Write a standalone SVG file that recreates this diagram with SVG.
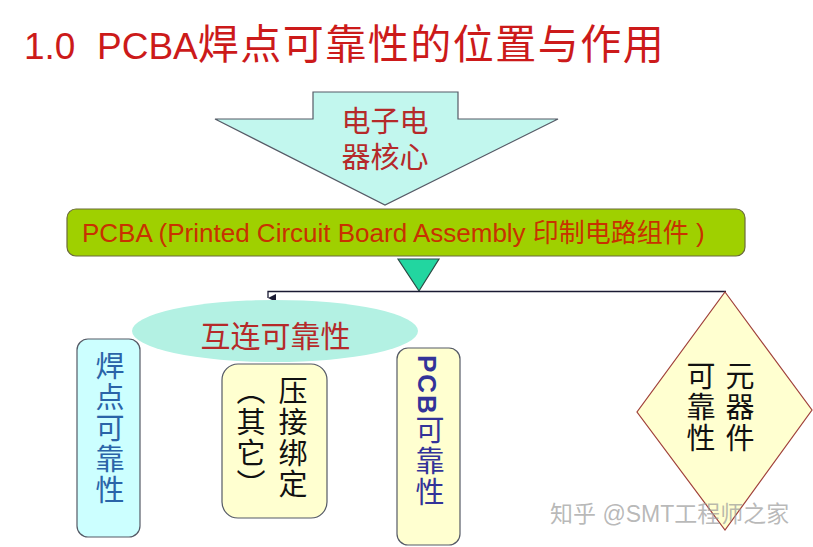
<svg xmlns="http://www.w3.org/2000/svg" width="813" height="547" viewBox="0 0 813 547">
  <defs>
    <style>
      .cjk { font-family: "Liberation Sans", "Noto Sans CJK SC", sans-serif; }
      .vert { writing-mode: vertical-rl; font-family: "Liberation Sans", "Noto Sans CJK SC", sans-serif; font-size: 29px; letter-spacing: 2px; }
      .node-stroke { stroke: #555a66; stroke-width: 1.2; }
    </style>
    <marker id="arrowDown" viewBox="0 0 10 10" refX="5" refY="10" markerWidth="8" markerHeight="8" markerUnits="userSpaceOnUse" orient="auto">
      <path d="M0,0 L10,0 L5,10 Z" fill="#1a1a33"/>
    </marker>
  </defs>
  <rect width="813" height="547" fill="#ffffff"/>

  <text id="title" class="cjk" x="24" y="59" fill="#cc1a1a" font-size="37">1.0<tspan x="97">PCBA</tspan><tspan font-size="41" letter-spacing="1.5">焊点可靠性的位置与作用</tspan></text>

  <g id="core-arrow">
    <polygon points="313,92 458,92 458,119 558,119 385,205 215,119 313,119" fill="#c2f7ee" class="node-stroke"/>
    <text class="cjk" x="385" y="132" text-anchor="middle" font-size="29" fill="#b52a2a">电子电</text>
    <text class="cjk" x="385" y="168" text-anchor="middle" font-size="29" fill="#b52a2a">器核心</text>
  </g>

  <g id="pcba-bar">
    <rect x="67" y="209" width="678" height="47" rx="9" fill="#9fd000" stroke="#6b6b3a" stroke-width="1.2"/>
    <text class="cjk" x="82" y="242" font-size="26" fill="#c83200">PCBA (Printed Circuit Board Assembly 印制电路组件 )</text>
  </g>

  <g id="pcba-triangle">
    <polygon points="398,259 439,259 419,291" fill="#22d6a0" stroke="#2a4a44" stroke-width="1.2"/>
  </g>

  <g id="connectors" fill="none" stroke="#1a1a33" stroke-width="1.3">
    <line x1="419" y1="291.5" x2="726" y2="291.5"/>
    <polyline points="419,291.5 268,291.5 268,298" marker-end="url(#arrowDown)"/>
  </g>

  <g id="interconnect">
    <ellipse cx="275" cy="331" rx="143" ry="31" fill="#b3f1e3"/>
    <text class="cjk" x="275.5" y="347" text-anchor="middle" font-size="30" fill="#b52a2a">互连可靠性</text>
  </g>

  <g id="solder-joint">
    <rect x="77" y="339" width="63" height="198" rx="11" fill="#ccffff" class="node-stroke"/>
    <text class="vert" x="107" y="351" fill="#2a64a8" letter-spacing="3">焊点可靠性</text>
  </g>

  <g id="press-bond">
    <rect x="222" y="364" width="105" height="154" rx="16" fill="#ffffd0" class="node-stroke"/>
    <text class="vert" x="290" y="376" fill="#111111">压接绑定</text>
    <text class="vert" x="248" y="376" fill="#111111">（其它）</text>
  </g>

  <g id="pcb">
    <rect x="397" y="348" width="63" height="197" rx="11" fill="#ffffd0" class="node-stroke"/>
    <text class="vert" x="427" y="355" fill="#333399"><tspan font-size="26" font-weight="bold">PCB</tspan>可靠性</text>
  </g>

  <g id="component">
    <polygon points="725,292 812,410 725,530 637,412" fill="#ffffd0" stroke="#a0403a" stroke-width="1.2"/>
    <text class="vert" x="737" y="361" fill="#111111">元器件</text>
    <text class="vert" x="698" y="361" fill="#111111">可靠性</text>
  </g>

  <text id="watermark" class="cjk" x="550" y="522" font-size="23" fill="#9a9a9a" fill-opacity="0.7">知乎 @SMT工程师之家</text>
</svg>
